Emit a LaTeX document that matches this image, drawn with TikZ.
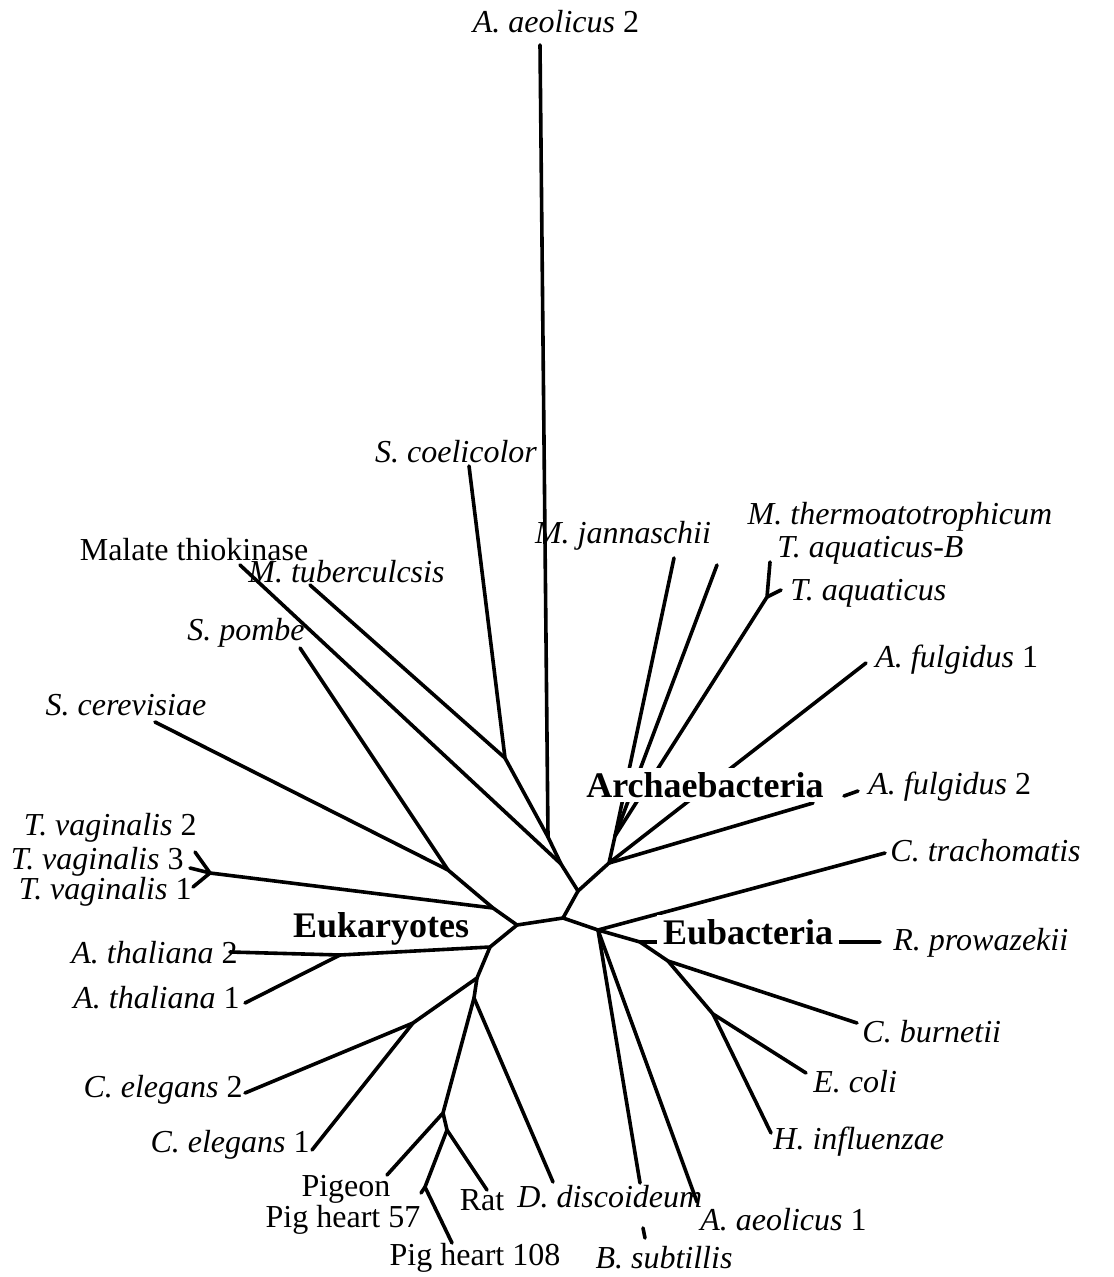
\documentclass[tikz,border=0pt]{standalone}
\usepackage{fontspec}
\setmainfont{Liberation Serif}
\usepackage{tikz}
\newcommand{\species}[1]{\textit{#1}}

\tikzset{
  branch/.style={line width=1.8pt, line cap=round, line join=round},
  taxon/.style={font=\fontsize{16}{19}\selectfont, inner sep=0pt},
  group/.style={font=\fontsize{18}{21}\selectfont\bfseries, inner xsep=3pt, inner ysep=2pt},
}

\begin{document}
\begin{tikzpicture}[x=0.5pt, y=-0.5pt]
    \useasboundingbox (0,0) rectangle (1113,1277);

    % inner nodes of the tree
    \coordinate (cen) at (563,918);
    \coordinate (top) at (578,891);
    \coordinate (mal) at (561,864);
    \coordinate (aeo) at (548,837);
    \coordinate (coel) at (505,758);
    \coordinate (arc) at (609,863);
    \coordinate (fan) at (615,836);
    \coordinate (taq) at (767,597);
    \coordinate (eub) at (598,930);
    \coordinate (rpr) at (640,942);
    \coordinate (bur) at (668,961);
    \coordinate (eco) at (713,1014);
    \coordinate (euk) at (517,925);
    \coordinate (tv) at (493,908);
    \coordinate (yea) at (448,870);
    \coordinate (tvn) at (210,873);
    \coordinate (ath) at (490,947);
    \coordinate (ath1) at (340,955);
    \coordinate (low) at (477,978);
    \coordinate (ce) at (413,1023);
    \coordinate (dd) at (474,998);
    \coordinate (pg) at (443,1113);
    \coordinate (rt) at (447,1130);
    \coordinate (ph) at (425,1187);

    % free ends of the leaves
    \coordinate (e-aae2) at (540,45);
    \coordinate (e-scoe) at (469,466);
    \coordinate (e-mtub) at (310,585);
    \coordinate (e-malt) at (240,565);
    \coordinate (e-mjan) at (674,558);
    \coordinate (e-mthe) at (717,565);
    \coordinate (e-taqb) at (770,562);
    \coordinate (e-taq) at (781,590);
    \coordinate (e-afu1) at (866,663);
    \coordinate (e-afu2) at (813,803);
    \coordinate (e-afu2a) at (844,796);
    \coordinate (e-afu2b) at (858,791);
    \coordinate (e-ctra) at (885,853);
    \coordinate (e-rpro) at (880,942);
    \coordinate (e-cbur) at (857,1023);
    \coordinate (e-ecol) at (806,1073);
    \coordinate (e-hinf) at (771,1133);
    \coordinate (e-aae1) at (697,1202);
    \coordinate (e-bsub) at (640,1183);
    \coordinate (e-bsuba) at (643,1228);
    \coordinate (e-bsubb) at (645,1238);
    \coordinate (e-ddis) at (553,1182);
    \coordinate (e-rat) at (487,1190);
    \coordinate (e-pige) at (387,1175);
    \coordinate (e-ph57) at (421,1193);
    \coordinate (e-ph108) at (452,1243);
    \coordinate (e-cel1) at (312,1150);
    \coordinate (e-cel2) at (245,1093);
    \coordinate (e-ath1) at (245,1003);
    \coordinate (e-ath2) at (230,952);
    \coordinate (e-tva2) at (195,852);
    \coordinate (e-tva3) at (190,868);
    \coordinate (e-tva1) at (193,887);
    \coordinate (e-scer) at (155,722);
    \coordinate (e-spom) at (300,648);

    % branches
    \draw[branch] (euk) -- (cen) -- (eub);
    \draw[branch] (cen) -- (top) -- (mal) -- (aeo) -- (coel) -- (e-scoe);
    \draw[branch] (coel) -- (e-mtub);
    \draw[branch] (aeo) -- (e-aae2);
    \draw[branch] (mal) -- (e-malt);
    \draw[branch] (top) -- (arc) -- (fan);
    \draw[branch] (fan) -- (e-mjan);
    \draw[branch] (fan) -- (e-mthe);
    \draw[branch] (fan) -- (taq) -- (e-taqb);
    \draw[branch] (taq) -- (e-taq);
    \draw[branch] (arc) -- (e-afu1);
    \draw[branch] (arc) -- (e-afu2);
    \draw[branch] (e-afu2a) -- (e-afu2b);
    \draw[branch] (eub) -- (e-ctra);
    \draw[branch] (eub) -- (rpr) -- (e-rpro);
    \draw[branch] (rpr) -- (bur) -- (e-cbur);
    \draw[branch] (bur) -- (eco) -- (e-ecol);
    \draw[branch] (eco) -- (e-hinf);
    \draw[branch] (eub) -- (e-aae1);
    \draw[branch] (eub) -- (e-bsub);
    \draw[branch] (e-bsuba) -- (e-bsubb);
    \draw[branch] (euk) -- (tv) -- (yea) -- (e-scer);
    \draw[branch] (yea) -- (e-spom);
    \draw[branch] (tv) -- (tvn);
    \draw[branch] (tvn) -- (e-tva2);
    \draw[branch] (tvn) -- (e-tva3);
    \draw[branch] (tvn) -- (e-tva1);
    \draw[branch] (euk) -- (ath) -- (ath1) -- (e-ath2);
    \draw[branch] (ath1) -- (e-ath1);
    \draw[branch] (ath) -- (low) -- (ce) -- (e-cel2);
    \draw[branch] (ce) -- (e-cel1);
    \draw[branch] (low) -- (dd) -- (e-ddis);
    \draw[branch] (dd) -- (pg) -- (e-pige);
    \draw[branch] (pg) -- (rt) -- (e-rat);
    \draw[branch] (rt) -- (ph) -- (e-ph108);
    \draw[branch] (ph) -- (e-ph57);

    % group names
    \node[group, fill=white] (archae) at (705,785) {Archaebacteria};
    \node[group, fill=white] (eubac) at (748,932) {Eubacteria};
    \node[group] (eukar) at (381,929) {Eukaryotes};

    % taxa
    \node[taxon] (aae2) at (556,22) {\species{A. aeolicus} 2};
    \node[taxon] (scoe) at (456,452) {\species{S. coelicolor}};
    \node[taxon, anchor=west] (mtub) at (248,572) {\species{M. tuberculcsis}};
    \node[taxon] (malt) at (194,550) {Malate thiokinase};
    \node[taxon] (mjan) at (623,536) {\species{M. jannaschii}};
    \node[taxon] (mthe) at (900,517) {\species{M. thermoatotrophicum}};
    \node[taxon, anchor=west] (taqb) at (777,550) {\species{T. aquaticus-B}};
    \node[taxon, anchor=west] (taqa) at (790,593) {\species{T. aquaticus}};
    \node[taxon, anchor=west] (afu1) at (875,660) {\species{A. fulgidus} 1};
    \node[taxon, anchor=west] (afu2) at (868,787) {\species{A. fulgidus} 2};
    \node[taxon, anchor=west] (ctra) at (890,851) {\species{C. trachomatis}};
    \node[taxon, anchor=west] (rpro) at (893,943) {\species{R. prowazekii}};
    \node[taxon, anchor=west] (cbur) at (862,1032) {\species{C. burnetii}};
    \node[taxon, anchor=west] (ecol) at (813,1082) {\species{E. coli}};
    \node[taxon, anchor=west] (hinf) at (773,1142) {\species{H. influenzae}};
    \node[taxon, anchor=west] (aae1) at (700,1220) {\species{A. aeolicus} 1};
    \node[taxon] (bsub) at (664,1258) {\species{B. subtillis}};
    \node[taxon, anchor=west] (ddis) at (517,1197) {\species{D. discoideum}};
    \node[taxon] (rat) at (482,1200) {Rat};
    \node[taxon] (pige) at (346,1189) {Pigeon};
    \node[taxon] (ph57) at (343,1220) {Pig heart 57};
    \node[taxon] (ph108) at (475,1258) {Pig heart 108};
    \node[taxon, anchor=east] (cel1) at (310,1145) {\species{C. elegans} 1};
    \node[taxon, anchor=east] (cel2) at (243,1090) {\species{C. elegans} 2};
    \node[taxon, anchor=east] (ath1l) at (240,998) {\species{A. thaliana} 1};
    \node[taxon, anchor=east] (ath2l) at (238,953) {\species{A. thaliana} 2};
    \node[taxon, anchor=east] (tva2) at (197,828) {\species{T. vaginalis} 2};
    \node[taxon, anchor=east] (tva3) at (184,862) {\species{T. vaginalis} 3};
    \node[taxon, anchor=east] (tva1) at (192,892) {\species{T. vaginalis} 1};
    \node[taxon] (scer) at (126,705) {\species{S. cerevisiae}};
    \node[taxon] (spom) at (246,633) {\species{S. pombe}};
\end{tikzpicture}
\end{document}
